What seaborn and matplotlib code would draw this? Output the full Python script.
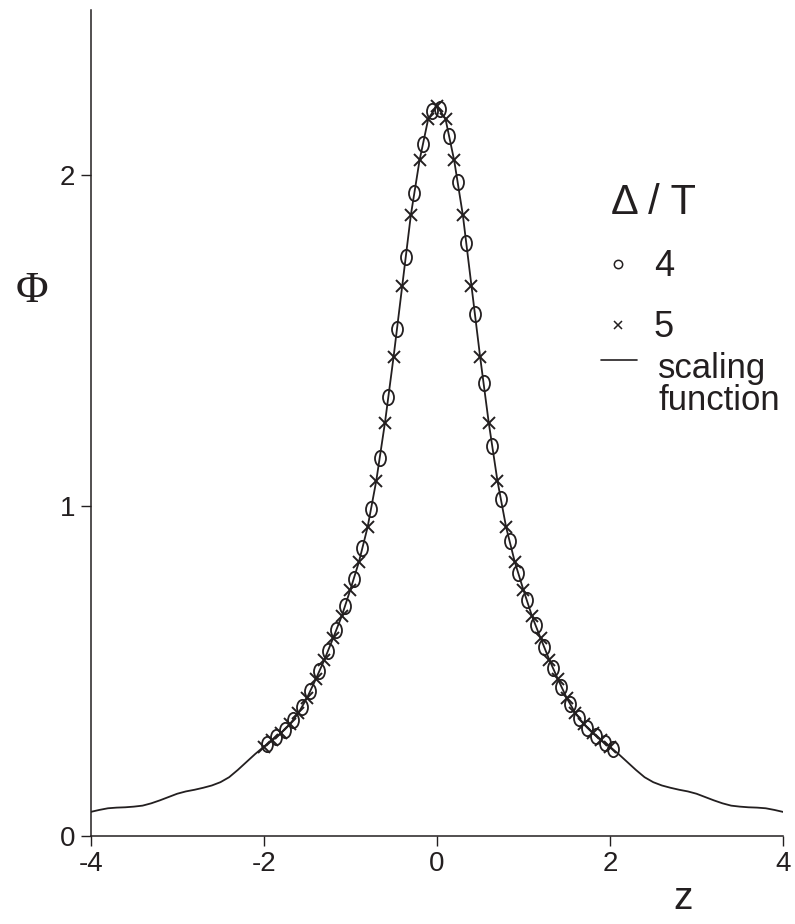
import matplotlib
matplotlib.use("Agg")
import matplotlib.pyplot as plt
import seaborn as sns
from matplotlib.legend_handler import HandlerLine2D
from matplotlib.lines import Line2D
from matplotlib.path import Path
from matplotlib.transforms import Affine2D

# scaling function
curve_z = [-4.0, -3.9, -3.8, -3.7, -3.6, -3.5, -3.4, -3.3, -3.2, -3.1,
           -3.0, -2.9, -2.8, -2.7, -2.6, -2.5, -2.4, -2.3, -2.2, -2.1,
           -2.0, -1.9, -1.8, -1.7, -1.6, -1.5, -1.4, -1.3, -1.2, -1.1,
           -1.0, -0.9, -0.8, -0.7, -0.6, -0.5, -0.4, -0.3, -0.2, -0.1,
           0.0,
           0.1, 0.2, 0.3, 0.4, 0.5, 0.6, 0.7, 0.8, 0.9, 1.0,
           1.1, 1.2, 1.3, 1.4, 1.5, 1.6, 1.7, 1.8, 1.9, 2.0,
           2.1, 2.2, 2.3, 2.4, 2.5, 2.6, 2.7, 2.8, 2.9, 3.0,
           3.1, 3.2, 3.3, 3.4, 3.5, 3.6, 3.7, 3.8, 3.9, 4.0]
curve_phi = [0.073, 0.079, 0.084, 0.086, 0.087, 0.089, 0.092, 0.099, 0.108, 0.118,
             0.128, 0.135, 0.140, 0.146, 0.153, 0.163, 0.178, 0.200, 0.224, 0.248,
             0.270, 0.290, 0.312, 0.338, 0.372, 0.418, 0.474, 0.533, 0.598, 0.665,
             0.745, 0.830, 0.935, 1.075, 1.250, 1.450, 1.665, 1.880, 2.045, 2.170,
             2.210,
             2.170, 2.045, 1.880, 1.665, 1.450, 1.250, 1.075, 0.935, 0.830, 0.745,
             0.665, 0.598, 0.533, 0.474, 0.418, 0.372, 0.338, 0.312, 0.290, 0.270,
             0.248, 0.224, 0.200, 0.178, 0.163, 0.153, 0.146, 0.140, 0.135, 0.128,
             0.118, 0.108, 0.099, 0.092, 0.089, 0.087, 0.086, 0.084, 0.079, 0.073]

# Delta/T = 4 (circles)
circle_z = [-1.96, -1.86, -1.76, -1.66, -1.56, -1.46, -1.36, -1.26, -1.16, -1.06,
            -0.96, -0.86, -0.76, -0.66, -0.56, -0.46, -0.36, -0.26, -0.16, -0.06,
            0.04, 0.14, 0.24, 0.34, 0.44, 0.54, 0.64, 0.74, 0.84, 0.94,
            1.04, 1.14, 1.24, 1.34, 1.44, 1.54, 1.64, 1.74, 1.84, 1.94, 2.04]
circle_phi = [0.278, 0.299, 0.322, 0.351, 0.390, 0.440, 0.498, 0.559, 0.625, 0.697,
              0.779, 0.872, 0.991, 1.145, 1.330, 1.536, 1.751, 1.946, 2.095, 2.194,
              2.200, 2.120, 1.979, 1.794, 1.579, 1.370, 1.180, 1.019, 0.893, 0.796,
              0.713, 0.638, 0.572, 0.509, 0.452, 0.400, 0.358, 0.328, 0.303, 0.282, 0.262]

# Delta/T = 5 (crosses)
cross_z = [-2.0, -1.9, -1.8, -1.7, -1.6, -1.5, -1.4, -1.3, -1.2, -1.1,
           -1.0, -0.9, -0.8, -0.7, -0.6, -0.5, -0.4, -0.3, -0.2, -0.1,
           0.0, 0.1, 0.2, 0.3, 0.4, 0.5, 0.6, 0.7, 0.8, 0.9,
           1.0, 1.1, 1.2, 1.3, 1.4, 1.5, 1.6, 1.7, 1.8, 1.9, 2.0]
cross_phi = [0.270, 0.290, 0.312, 0.338, 0.372, 0.418, 0.474, 0.533, 0.598, 0.665,
             0.745, 0.830, 0.935, 1.075, 1.250, 1.450, 1.665, 1.880, 2.045, 2.170,
             2.210, 2.170, 2.045, 1.880, 1.665, 1.450, 1.250, 1.075, 0.935, 0.830,
             0.745, 0.665, 0.598, 0.533, 0.474, 0.418, 0.372, 0.338, 0.312, 0.290, 0.270]

x_ticks = [-4, -2, 0, 2, 4]
y_ticks = [0, 1, 2]
legend_title = "Δ / T"
marker_labels = ["4", "5"]
curve_label = "scaling\nfunction"

ink = "#231f20"


class RaisedLineHandler(HandlerLine2D):
    """Line handle lifted to sit beside the first line of a two-line label."""

    def __init__(self, lift, **kw):
        super().__init__(**kw)
        self.lift = lift

    def create_artists(self, legend, orig_handle, xdescent, ydescent,
                       width, height, fontsize, trans):
        return super().create_artists(legend, orig_handle, xdescent,
                                      ydescent - 2 * self.lift, width, height,
                                      fontsize, trans)


sns.set_style("ticks")
plt.rcParams["font.family"] = ["Liberation Sans", "DejaVu Sans"]

fig = plt.figure(figsize=(7.95, 9.24), dpi=100)
ax = fig.add_axes([0.114, 0.0952, 0.871, 0.894])

# tall open "O" like the typeset markers
ellipse = Path.unit_circle().transformed(Affine2D().scale(0.72, 1.0))

sns.lineplot(x=curve_z, y=curve_phi, ax=ax, color=ink, lw=1.3,
             estimator=None, sort=False)
sns.lineplot(x=circle_z, y=circle_phi, ax=ax, color=ink, ls="", marker=ellipse,
             markersize=11, markerfacecolor="none", markeredgecolor=ink,
             markeredgewidth=1.3, estimator=None, sort=False)
sns.lineplot(x=cross_z, y=cross_phi, ax=ax, color=ink, ls="", marker="x",
             markersize=9, markeredgecolor=ink, markeredgewidth=1.4,
             estimator=None, sort=False)

ax.set_xlim(-4, 4)
ax.set_ylim(0, 2.5)
ax.set_xticks(x_ticks)
ax.set_yticks(y_ticks)
ax.set_xticklabels([str(t) for t in x_ticks])
ax.set_yticklabels([str(t) for t in y_ticks])
ax.tick_params(direction="out", length=7, width=1, colors=ink, labelsize=20, pad=4)
sns.despine(ax=ax)
for side in ["left", "bottom"]:
    ax.spines[side].set_color(ink)
    ax.spines[side].set_linewidth(1.1)

ax.set_xlabel("z", fontsize=28, color=ink)
ax.xaxis.set_label_coords(0.855, -0.055)
ax.set_ylabel("Φ", rotation=0, fontsize=32, color=ink,
              family=["Liberation Serif", "DejaVu Serif"], va="center", ha="center")
ax.yaxis.set_label_coords(-0.085, 0.66)

# legend for the two data sets
marker_handles = [
    Line2D([], [], ls="", marker="o", markersize=6, markerfacecolor="none",
           markeredgecolor=ink, markeredgewidth=1.1),
    Line2D([], [], ls="", marker="x", markersize=6, markeredgecolor=ink,
           markeredgewidth=1.1),
]
leg_a = ax.legend(marker_handles, marker_labels, title=legend_title,
                  frameon=False, fontsize=26, title_fontsize=30,
                  loc="upper left", bbox_to_anchor=(0.751, 0.790),
                  borderpad=0, borderaxespad=0, handlelength=0.4,
                  handletextpad=0.8, labelspacing=0.72, alignment="left")
leg_a.get_title().set_color(ink)
for t in leg_a.get_texts():
    t.set_color(ink)
ax.add_artist(leg_a)

# legend for the scaling function
curve_handle = Line2D([], [], color=ink, lw=1.2)
leg_b = ax.legend([curve_handle], [curve_label], frameon=False, fontsize=25,
                  loc="upper left", bbox_to_anchor=(0.737, 0.586),
                  borderpad=0, borderaxespad=0, handlelength=1.05,
                  handletextpad=0.6,
                  handler_map={curve_handle: RaisedLineHandler(lift=18)})
for t in leg_b.get_texts():
    t.set_color(ink)
    t.set_linespacing(0.95)

fig.savefig("out.png", dpi=100)
